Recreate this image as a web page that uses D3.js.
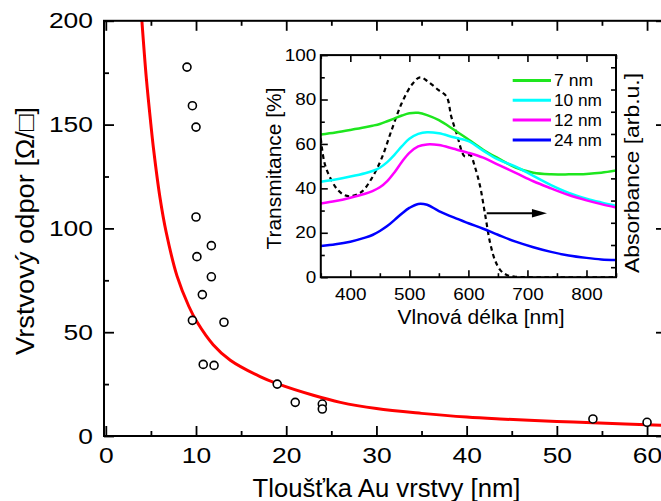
<!DOCTYPE html>
<html>
<head>
<meta charset="utf-8">
<script src="https://cdn.jsdelivr.net/npm/d3@7"></script>
<style>
  body { margin: 0; background: #fff; }
  svg text { font-family: "Liberation Sans", Arial, Helvetica, sans-serif; fill: #000; }
</style>
</head>
<body>
<svg id="chart" width="661" height="501"></svg>
<script>
// ---- Main plot: sheet resistance of Au films vs. thickness ----
const thicknessNm     = [9.0, 9.6, 10.0, 10.0, 10.1, 11.7, 11.7, 10.7, 9.6, 13.1, 10.8, 12.0, 19.0, 21.0, 24.0, 24.0, 54.0, 60.0];
const sheetResistance = [177.7, 159.1, 148.8, 105.5, 86.4, 91.7, 76.7, 68.1, 55.7, 54.8, 34.5, 34.0, 25.0, 16.2, 15.4, 13.0, 8.2, 6.6];

// fitted trend
const fitThickness  = [4.0, 4.5, 5.0, 5.3, 6.0, 6.7, 7.9, 9.2, 10.1, 11.9, 13.8, 17.1, 19.0, 23.0, 26.0, 30.0, 35.0, 40.0, 43.7, 50.0, 54.0, 62.0];
const fitResistance = [200, 172, 150, 138, 115, 98, 77, 62.5, 55, 44, 36.5, 28.6, 25.2, 19.6, 16.2, 13.2, 10.9, 9.1, 8.2, 7.0, 6.4, 5.1];

const mainXTicks = [0, 10, 20, 30, 40, 50, 60];
const mainYTicks = [0, 50, 100, 150, 200];

// ---- Inset: transmittance spectra ----
const wavelengthNm = [350, 375, 400, 425, 437.5, 450, 462.5, 475, 487.5, 500, 515, 530, 550, 575, 600, 625, 650, 680, 710, 740, 770, 800, 825, 850];
const trans7nm  = [64.3, 65.2, 66.3, 67.5, 68.2, 69.0, 70.2, 71.5, 72.8, 73.8, 74.0, 73.0, 70.7, 66.5, 62.0, 57.4, 53.6, 49.4, 47.0, 46.3, 46.3, 46.5, 47.0, 48.0];
const trans10nm = [43.0, 44.0, 45.3, 46.8, 47.8, 49.3, 51.8, 55.2, 59.0, 62.3, 64.5, 65.3, 64.8, 63.0, 61.3, 57.0, 53.0, 49.8, 45.6, 41.5, 38.0, 35.4, 33.7, 32.2];
const trans12nm = [33.2, 34.3, 35.8, 37.6, 38.8, 40.5, 43.3, 47.3, 52.0, 56.0, 58.9, 59.8, 59.5, 57.8, 56.0, 53.8, 50.7, 47.0, 43.2, 40.0, 37.0, 34.6, 32.9, 31.4];
const trans24nm = [14.0, 14.8, 16.0, 17.8, 19.0, 20.8, 23.0, 25.8, 28.7, 31.2, 33.0, 32.6, 29.8, 26.9, 24.3, 21.8, 19.1, 16.0, 13.5, 11.4, 9.8, 8.7, 8.0, 7.7];
const seriesNames  = ["7 nm", "10 nm", "12 nm", "24 nm"];
const seriesColors = ["#1ee61e", "#00ffff", "#ff00ff", "#0000ff"];

// absorbance spectrum (right axis, arbitrary units)
const absWavelength = [350, 356.5, 368, 379, 390.5, 402, 419, 436, 453, 470, 487, 504, 518, 532, 549, 563, 571, 580, 594, 603, 611, 620, 628, 637, 645, 654, 665, 679, 700, 850];
const absorbance    = [0.58, 0.467, 0.392, 0.347, 0.324, 0.32, 0.339, 0.399, 0.49, 0.618, 0.738, 0.821, 0.855, 0.835, 0.798, 0.768, 0.678, 0.603, 0.498, 0.505, 0.452, 0.362, 0.242, 0.107, 0.032, -0.013, -0.035, -0.043, -0.045, -0.045];

const insetXTicks = [400, 500, 600, 700, 800];
const insetYTicks = [0, 20, 40, 60, 80, 100];

const svg = d3.select("#chart");
svg.append("rect").attr("width", 661).attr("height", 501).attr("fill", "#fff");

// stretch tick labels to the wide lettering used on the axes
function styleLabels(g, size, charW) {
  g.selectAll("text")
    .attr("font-size", size)
    .attr("font-family", null)
    .attr("textLength", function () { return charW * this.textContent.length; })
    .attr("lengthAdjust", "spacingAndGlyphs");
}
function noDomain(g) { g.select(".domain").remove(); g.attr("font-family", null); }

// ================= main plot =================
const x = d3.scaleLinear().domain([-0.2, 62.1]).range([104, 666]);
const y = d3.scaleLinear().domain([0, 200]).range([436, 20.8]);

svg.append("clipPath").attr("id", "mainClip")
  .append("rect").attr("x", x(-0.2)).attr("y", y(200)).attr("width", x(62.1) - x(-0.2)).attr("height", y(0) - y(200));

const plot = svg.append("g");

// fit curve
plot.append("path")
  .datum(d3.zip(fitThickness, fitResistance))
  .attr("clip-path", "url(#mainClip)")
  .attr("fill", "none").attr("stroke", "#ff0000").attr("stroke-width", 3)
  .attr("d", d3.line().x(d => x(d[0])).y(d => y(d[1])).curve(d3.curveCatmullRom.alpha(0.5)));

// measured points
plot.selectAll("circle.pt")
  .data(d3.zip(thicknessNm, sheetResistance))
  .join("circle").attr("class", "pt")
  .attr("cx", d => x(d[0])).attr("cy", d => y(d[1])).attr("r", 4)
  .attr("fill", "#fff").attr("stroke", "#000").attr("stroke-width", 1.6);

// axes with inward ticks
const mainAxes = svg.append("g");
const tickStroke = g => g.selectAll("line").attr("stroke-width", 1.8);

// bottom
mainAxes.append("g").attr("transform", `translate(0,${y(0)})`)
  .call(d3.axisBottom(x).tickValues(d3.range(5, 62, 10)).tickSize(-5).tickFormat("")).call(noDomain).call(tickStroke);
mainAxes.append("g").attr("transform", `translate(0,${y(0)})`)
  .call(d3.axisBottom(x).tickValues(mainXTicks).tickSize(-10).tickPadding(11)).call(noDomain).call(tickStroke)
  .call(g => styleLabels(g, 22, 14.7));
// top
mainAxes.append("g").attr("transform", `translate(0,${y(200)})`)
  .call(d3.axisTop(x).tickValues(d3.range(5, 62, 10)).tickSize(-5).tickFormat("")).call(noDomain).call(tickStroke);
mainAxes.append("g").attr("transform", `translate(0,${y(200)})`)
  .call(d3.axisTop(x).tickValues(mainXTicks).tickSize(-10).tickFormat("")).call(noDomain).call(tickStroke);
// left
mainAxes.append("g").attr("transform", `translate(${x(-0.2)},0)`)
  .call(d3.axisLeft(y).tickValues(d3.range(25, 200, 50)).tickSize(-5).tickFormat("")).call(noDomain).call(tickStroke);
mainAxes.append("g").attr("transform", `translate(${x(-0.2)},0)`)
  .call(d3.axisLeft(y).tickValues(mainYTicks).tickSize(-10).tickPadding(11)).call(noDomain).call(tickStroke)
  .call(g => styleLabels(g, 22, 14.7));
// right
mainAxes.append("g").attr("transform", `translate(${x(62.1)},0)`)
  .call(d3.axisRight(y).tickValues(d3.range(25, 200, 50)).tickSize(-5).tickFormat("")).call(noDomain).call(tickStroke);
mainAxes.append("g").attr("transform", `translate(${x(62.1)},0)`)
  .call(d3.axisRight(y).tickValues(mainYTicks).tickSize(-10).tickFormat("")).call(noDomain).call(tickStroke);

// frame
svg.append("rect")
  .attr("x", x(-0.2)).attr("y", y(200)).attr("width", x(62.1) - x(-0.2)).attr("height", y(0) - y(200))
  .attr("fill", "none").attr("stroke", "#000").attr("stroke-width", 2);

// axis titles
svg.append("text")
  .attr("x", 386.5).attr("y", 497).attr("text-anchor", "middle").attr("font-size", 25)
  .attr("textLength", 268).attr("lengthAdjust", "spacingAndGlyphs")
  .text("Tloušťka Au vrstvy [nm]");
svg.append("text")
  .attr("transform", "translate(34,231) rotate(-90)").attr("text-anchor", "middle").attr("font-size", 25)
  .attr("textLength", 248).attr("lengthAdjust", "spacingAndGlyphs")
  .text("Vrstvový odpor [Ω/□]");

// ================= inset =================
const xi = d3.scaleLinear().domain([350, 850]).range([320.8, 616]);
const yi = d3.scaleLinear().domain([0, 100]).range([277.2, 55.1]);
const ya = d3.scaleLinear().domain([-0.045, 0.955]).range([277.2, 55.1]);

const inset = svg.append("g");
inset.append("rect")
  .attr("x", xi(350)).attr("y", yi(100)).attr("width", xi(850) - xi(350)).attr("height", yi(0) - yi(100))
  .attr("fill", "#fff");

svg.append("clipPath").attr("id", "insetClip")
  .append("rect").attr("x", xi(350)).attr("y", yi(100)).attr("width", xi(850) - xi(350)).attr("height", yi(0) - yi(100));

const curves = inset.append("g").attr("clip-path", "url(#insetClip)");
const specLine = d3.line().x(d => xi(d[0])).y(d => yi(d[1])).curve(d3.curveCatmullRom.alpha(0.5));
const spectra = [trans7nm, trans10nm, trans12nm, trans24nm];

// absorbance (dashed)
curves.append("path")
  .datum(d3.zip(absWavelength, absorbance))
  .attr("fill", "none").attr("stroke", "#000").attr("stroke-width", 2.2).attr("stroke-dasharray", "4.5,3.5")
  .attr("d", d3.line().x(d => xi(d[0])).y(d => ya(d[1])).curve(d3.curveCatmullRom.alpha(0.5)));

spectra.forEach((vals, i) => {
  curves.append("path")
    .datum(d3.zip(wavelengthNm, vals))
    .attr("fill", "none").attr("stroke", seriesColors[i]).attr("stroke-width", 2.5)
    .attr("d", specLine);
});

// arrow pointing to the absorbance axis
const arrowY = yi(28.8), arrowX0 = xi(631), arrowTip = xi(733);
inset.append("line")
  .attr("x1", arrowX0).attr("x2", arrowTip - 14).attr("y1", arrowY).attr("y2", arrowY)
  .attr("stroke", "#000").attr("stroke-width", 2);
inset.append("path")
  .attr("d", d3.line()([[arrowTip, arrowY], [arrowTip - 15, arrowY - 4.3], [arrowTip - 15, arrowY + 4.3]]) + "Z")
  .attr("fill", "#000");

// inset axes
const insetAxes = svg.append("g");
const thin = g => g.selectAll("line").attr("stroke-width", 1.6);
insetAxes.append("g").attr("transform", `translate(0,${yi(0)})`)
  .call(d3.axisBottom(xi).tickValues(d3.range(350, 851, 100)).tickSize(-4).tickFormat("")).call(noDomain).call(thin);
insetAxes.append("g").attr("transform", `translate(0,${yi(0)})`)
  .call(d3.axisBottom(xi).tickValues(insetXTicks).tickSize(-7).tickPadding(11.4)).call(noDomain).call(thin)
  .call(g => styleLabels(g, 16, 10.5));
insetAxes.append("g").attr("transform", `translate(0,${yi(100)})`)
  .call(d3.axisTop(xi).tickValues(d3.range(350, 851, 100)).tickSize(-4).tickFormat("")).call(noDomain).call(thin);
insetAxes.append("g").attr("transform", `translate(0,${yi(100)})`)
  .call(d3.axisTop(xi).tickValues(insetXTicks).tickSize(-7).tickFormat("")).call(noDomain).call(thin);
insetAxes.append("g").attr("transform", `translate(${xi(350)},0)`)
  .call(d3.axisLeft(yi).tickValues(d3.range(10, 100, 20)).tickSize(-4).tickFormat("")).call(noDomain).call(thin);
insetAxes.append("g").attr("transform", `translate(${xi(350)},0)`)
  .call(d3.axisLeft(yi).tickValues(insetYTicks).tickSize(-7).tickPadding(4.5)).call(noDomain).call(thin)
  .call(g => styleLabels(g, 16, 10.5));
insetAxes.append("g").attr("transform", `translate(${xi(850)},0)`)
  .call(d3.axisRight(ya).tickValues(d3.range(0, 0.95, 0.1)).tickSize(-5).tickFormat("")).call(noDomain).call(thin);

inset.append("rect")
  .attr("x", xi(350)).attr("y", yi(100)).attr("width", xi(850) - xi(350)).attr("height", yi(0) - yi(100))
  .attr("fill", "none").attr("stroke", "#000").attr("stroke-width", 2);

// inset titles
svg.append("text")
  .attr("x", 481).attr("y", 323.5).attr("text-anchor", "middle").attr("font-size", 19.5)
  .attr("textLength", 167).attr("lengthAdjust", "spacingAndGlyphs")
  .text("Vlnová délka [nm]");
svg.append("text")
  .attr("transform", "translate(281,168.5) rotate(-90)").attr("text-anchor", "middle").attr("font-size", 19.5)
  .attr("textLength", 162).attr("lengthAdjust", "spacingAndGlyphs")
  .text("Transmitance [%]");
svg.append("text")
  .attr("transform", "translate(639,173) rotate(-90)").attr("text-anchor", "middle").attr("font-size", 20.5)
  .attr("textLength", 200).attr("lengthAdjust", "spacingAndGlyphs")
  .text("Absorbance [arb.u.]");

// legend
const legend = svg.append("g");
seriesNames.forEach((name, i) => {
  const ly = 80.5 + i * 19.8;
  legend.append("line")
    .attr("x1", 512.7).attr("x2", 551).attr("y1", ly).attr("y2", ly)
    .attr("stroke", seriesColors[i]).attr("stroke-width", 3);
  legend.append("text")
    .attr("x", 554).attr("y", ly + 5.6).attr("font-size", 16)
    .attr("textLength", name.length === 4 ? 39 : 48).attr("lengthAdjust", "spacingAndGlyphs")
    .text(name);
});
</script>
</body>
</html>
